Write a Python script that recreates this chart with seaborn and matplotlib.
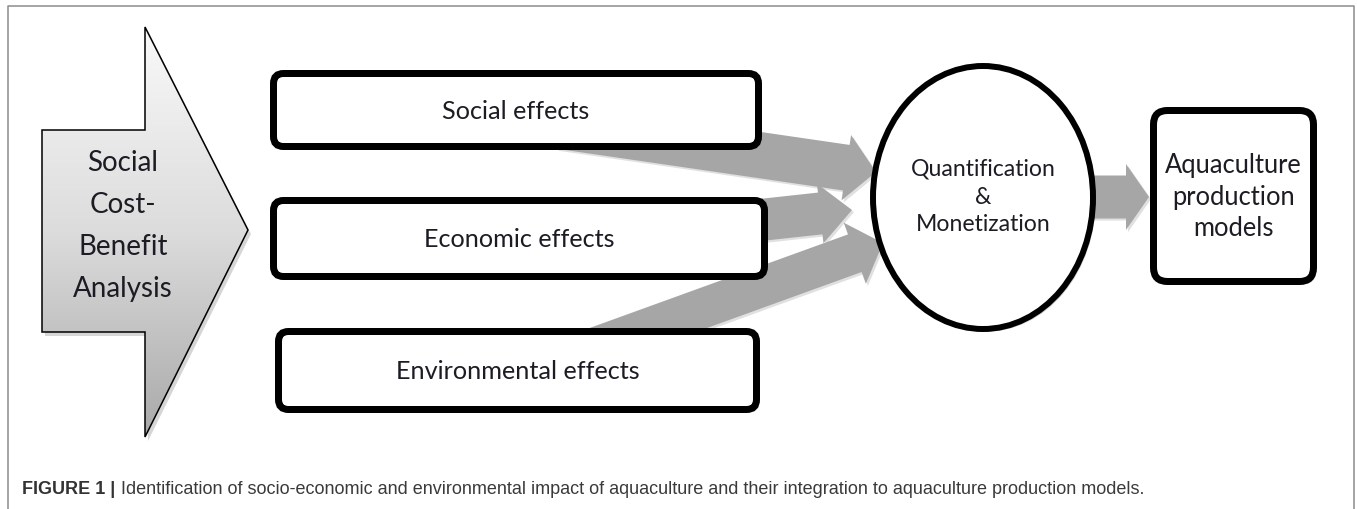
import numpy as np
import matplotlib
matplotlib.use("Agg")
import matplotlib.pyplot as plt
import seaborn as sns
import matplotlib.patheffects as pe
from matplotlib.patches import FancyBboxPatch, Ellipse, Polygon, FancyArrow
from matplotlib.colors import LinearSegmentedColormap

# ---- text content ----
source_lines = ["Social", "Cost-", "Benefit", "Analysis"]
effect_labels = ["Social effects", "Economic effects", "Environmental effects"]
process_lines = ["Quantification", "&", "Monetization"]
output_lines = ["Aquaculture", "production", "models"]
caption_bold = "FIGURE 1 |"
caption_text = ("Identification of socio-economic and environmental impact of aquaculture "
                "and their integration to aquaculture production models.")

# ---- layout (pixel space, y grows downward) ----
W, H = 1357, 509
effect_boxes = [(270, 762, 70, 150), (270, 768, 197, 280), (275, 760, 328, 413)]
output_box = (1150, 1317, 107, 285)
process_oval = (870, 1096, 63, 332)
big_arrow = [(42, 130), (145, 130), (145, 27), (248, 230), (145, 437), (145, 332), (42, 332)]
# start, tip, shaft width, head width, head length
flow_arrows = [
    ((560, 126), (876, 172), 46, 66, 30),
    ((650, 232), (852, 210), 42, 60, 32),
    ((560, 360), (883, 243), 40, 65, 30),
    ((1060, 197), (1149, 197), 43, 66, 23),
]

sns.set_theme(style="white")
plt.rcParams["font.family"] = ["Lato", "DejaVu Sans"]

arrow_gray = "#a6a6a6"
text_col = "#1c1c24"

fig = plt.figure(figsize=(W / 100, H / 100), dpi=100)
ax = fig.add_axes([0, 0, 1, 1])

shadow = [pe.SimplePatchShadow(offset=(2, -2), shadow_rgbFace="0.5", alpha=0.35), pe.Normal()]

# outer frame (open at the bottom)
ax.plot([8, 8, 1354, 1354], [H, 6, 6, H], color="#8c8c8c", lw=1.1, zorder=1)

# big gradient arrow
poly = Polygon(big_arrow, closed=True, facecolor="none", edgecolor="black", lw=1.1, zorder=4)
shadow_poly = Polygon([(x + 3, y + 4) for x, y in big_arrow], closed=True,
                      facecolor="0.55", edgecolor="none", alpha=0.35, zorder=2)
ax.add_patch(shadow_poly)
ax.add_patch(poly)
cmap = LinearSegmentedColormap.from_list("g", ["#f9f9f9", "#dcdcdc", "#a9a9a9"])
grad = np.linspace(0, 1, 256).reshape(-1, 1)
img = ax.imshow(grad, cmap=cmap, extent=(42, 248, 437, 27), origin="upper",
                aspect="auto", zorder=3)
img.set_clip_path(poly)
ax.text(123, 226, "\n".join(source_lines), ha="center", va="center", fontsize=20,
        linespacing=1.75, color=text_col, zorder=6)

# gray block arrows (drawn under boxes / oval)
for (x0, y0), (x1, y1), sw, hw, hl in flow_arrows:
    arr = FancyArrow(x0, y0, x1 - x0, y1 - y0, width=sw, head_width=hw, head_length=hl,
                     length_includes_head=True, facecolor=arrow_gray, edgecolor="none",
                     zorder=2)
    arr.set_path_effects([pe.SimplePatchShadow(offset=(1.5, -1.5), shadow_rgbFace="0.6",
                                               alpha=0.3), pe.Normal()])
    ax.add_patch(arr)

# effect boxes
lw_px = 7
for (x0, x1, y0, y1), label in zip(effect_boxes, effect_labels):
    box = FancyBboxPatch((x0 + lw_px / 2, y0 + lw_px / 2), x1 - x0 - lw_px, y1 - y0 - lw_px,
                         boxstyle="round,pad=0,rounding_size=10", facecolor="white",
                         edgecolor="black", lw=lw_px * 0.72, zorder=4)
    box.set_path_effects(shadow)
    ax.add_patch(box)
    ax.text((x0 + x1) / 2, (y0 + y1) / 2 + 1, label, ha="center", va="center",
            fontsize=18.2, color=text_col, zorder=6)

# quantification oval
ox0, ox1, oy0, oy1 = process_oval
oval = Ellipse(((ox0 + ox1) / 2, (oy0 + oy1) / 2), ox1 - ox0 - 6, oy1 - oy0 - 6,
               facecolor="white", edgecolor="black", lw=4.3, zorder=4)
oval.set_path_effects(shadow)
ax.add_patch(oval)
ax.text((ox0 + ox1) / 2, 197, "\n".join(process_lines), ha="center", va="center",
        fontsize=16.6, linespacing=1.4, color=text_col, zorder=6)

# output box
bx0, bx1, by0, by1 = output_box
obox = FancyBboxPatch((bx0 + lw_px / 2, by0 + lw_px / 2), bx1 - bx0 - lw_px, by1 - by0 - lw_px,
                      boxstyle="round,pad=0,rounding_size=14", facecolor="white",
                      edgecolor="black", lw=lw_px * 0.72, zorder=4)
obox.set_path_effects(shadow)
ax.add_patch(obox)
ax.text((bx0 + bx1) / 2, 197, "\n".join(output_lines), ha="center", va="center",
        fontsize=18.4, linespacing=1.35, color=text_col, zorder=6)

# caption
cap_font = ["Liberation Sans", "DejaVu Sans"]
t1 = ax.text(22, 494, caption_bold, ha="left", va="baseline", fontsize=13,
             fontweight="bold", family=cap_font, color="#333333")
ax.annotate(caption_text, xy=(1, 0), xycoords=t1, xytext=(4, 0), textcoords="offset points",
            ha="left", va="bottom", fontsize=13, family=cap_font, color="#3a3a3a")

ax.set_xlim(0, W)
ax.set_ylim(H, 0)
ax.axis("off")
fig.savefig("out.png", dpi=100, facecolor="white")
